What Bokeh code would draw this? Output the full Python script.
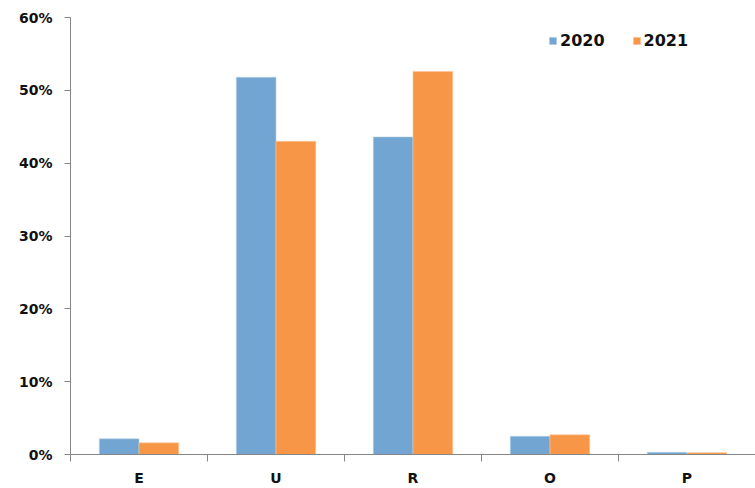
from bokeh.plotting import figure
from bokeh.models import (Range1d, FixedTicker, NumeralTickFormatter, ColumnDataSource,
                          Legend, LegendItem)
from bokeh.transform import dodge
from bokeh.embed import file_html
from bokeh.resources import INLINE

categories = ["E", "U", "R", "O", "P"]
series_names = ["2020", "2021"]
values_2020 = [0.0215, 0.518, 0.436, 0.025, 0.003]
values_2021 = [0.016, 0.430, 0.526, 0.027, 0.0025]
y_ticks = [0.0, 0.1, 0.2, 0.3, 0.4, 0.5, 0.6]

colors = ["#72A5D1", "#F79646"]

centers = [i + 0.5 for i in range(len(categories))]
src = ColumnDataSource(dict(x=centers, v2020=values_2020, v2021=values_2021))

p = figure(width=755, height=488, output_backend="svg", toolbar_location=None,
           x_range=Range1d(0, len(categories)), y_range=Range1d(0, 0.6),
           min_border_left=70, min_border_right=0, min_border_top=17, min_border_bottom=33)
p.outline_line_color = None
p.xgrid.visible = False
p.ygrid.visible = False
p.background_fill_color = "white"
p.border_fill_color = "white"

bw = 0.29
r1 = p.vbar(x=dodge("x", -bw / 2, range=p.x_range), top="v2020", width=bw, source=src,
            fill_color=colors[0], line_color="#B9D2E8", line_width=0.6)
r2 = p.vbar(x=dodge("x", bw / 2, range=p.x_range), top="v2021", width=bw, source=src,
            fill_color=colors[1], line_color="#FAC8A0", line_width=0.6)

# x axis
p.xaxis.ticker = FixedTicker(ticks=centers, minor_ticks=list(range(len(categories) + 1)))
p.xaxis.major_label_overrides = {c: lab for c, lab in zip(centers, categories)}
p.xaxis.major_tick_out = 0
p.xaxis.major_tick_in = 0
p.xaxis.minor_tick_out = 7
p.xaxis.minor_tick_in = 0
p.xaxis.minor_tick_line_color = "#868686"
p.xaxis.axis_line_color = "#868686"
p.xaxis.major_label_text_font = "DejaVu Sans"
p.xaxis.major_label_text_font_style = "bold"
p.xaxis.major_label_text_font_size = "14px"
p.xaxis.major_label_text_color = "#111111"
p.xaxis.major_label_standoff = 8

# y axis
p.yaxis.ticker = FixedTicker(ticks=y_ticks, minor_ticks=[])
p.yaxis.formatter = NumeralTickFormatter(format="0%")
p.yaxis.major_tick_out = 6
p.yaxis.major_tick_in = 0
p.yaxis.minor_tick_out = 0
p.yaxis.major_tick_line_color = "#868686"
p.yaxis.axis_line_color = "#868686"
p.yaxis.major_label_text_font = "DejaVu Sans"
p.yaxis.major_label_text_font_style = "bold"
p.yaxis.major_label_text_font_size = "14px"
p.yaxis.major_label_text_color = "#111111"
p.yaxis.major_label_standoff = 12

legend = Legend(items=[LegendItem(label=series_names[0], renderers=[r1]),
                       LegendItem(label=series_names[1], renderers=[r2])],
                orientation="horizontal", location=(478, 404),
                glyph_width=9, glyph_height=9, label_standoff=3, spacing=27,
                padding=0, margin=0, border_line_color=None, background_fill_alpha=0,
                label_text_font="DejaVu Sans", label_text_font_style="bold",
                label_text_font_size="16px", label_text_color="#111111")
p.add_layout(legend, "center")

open("out.html", "w").write(file_html(p, INLINE))
